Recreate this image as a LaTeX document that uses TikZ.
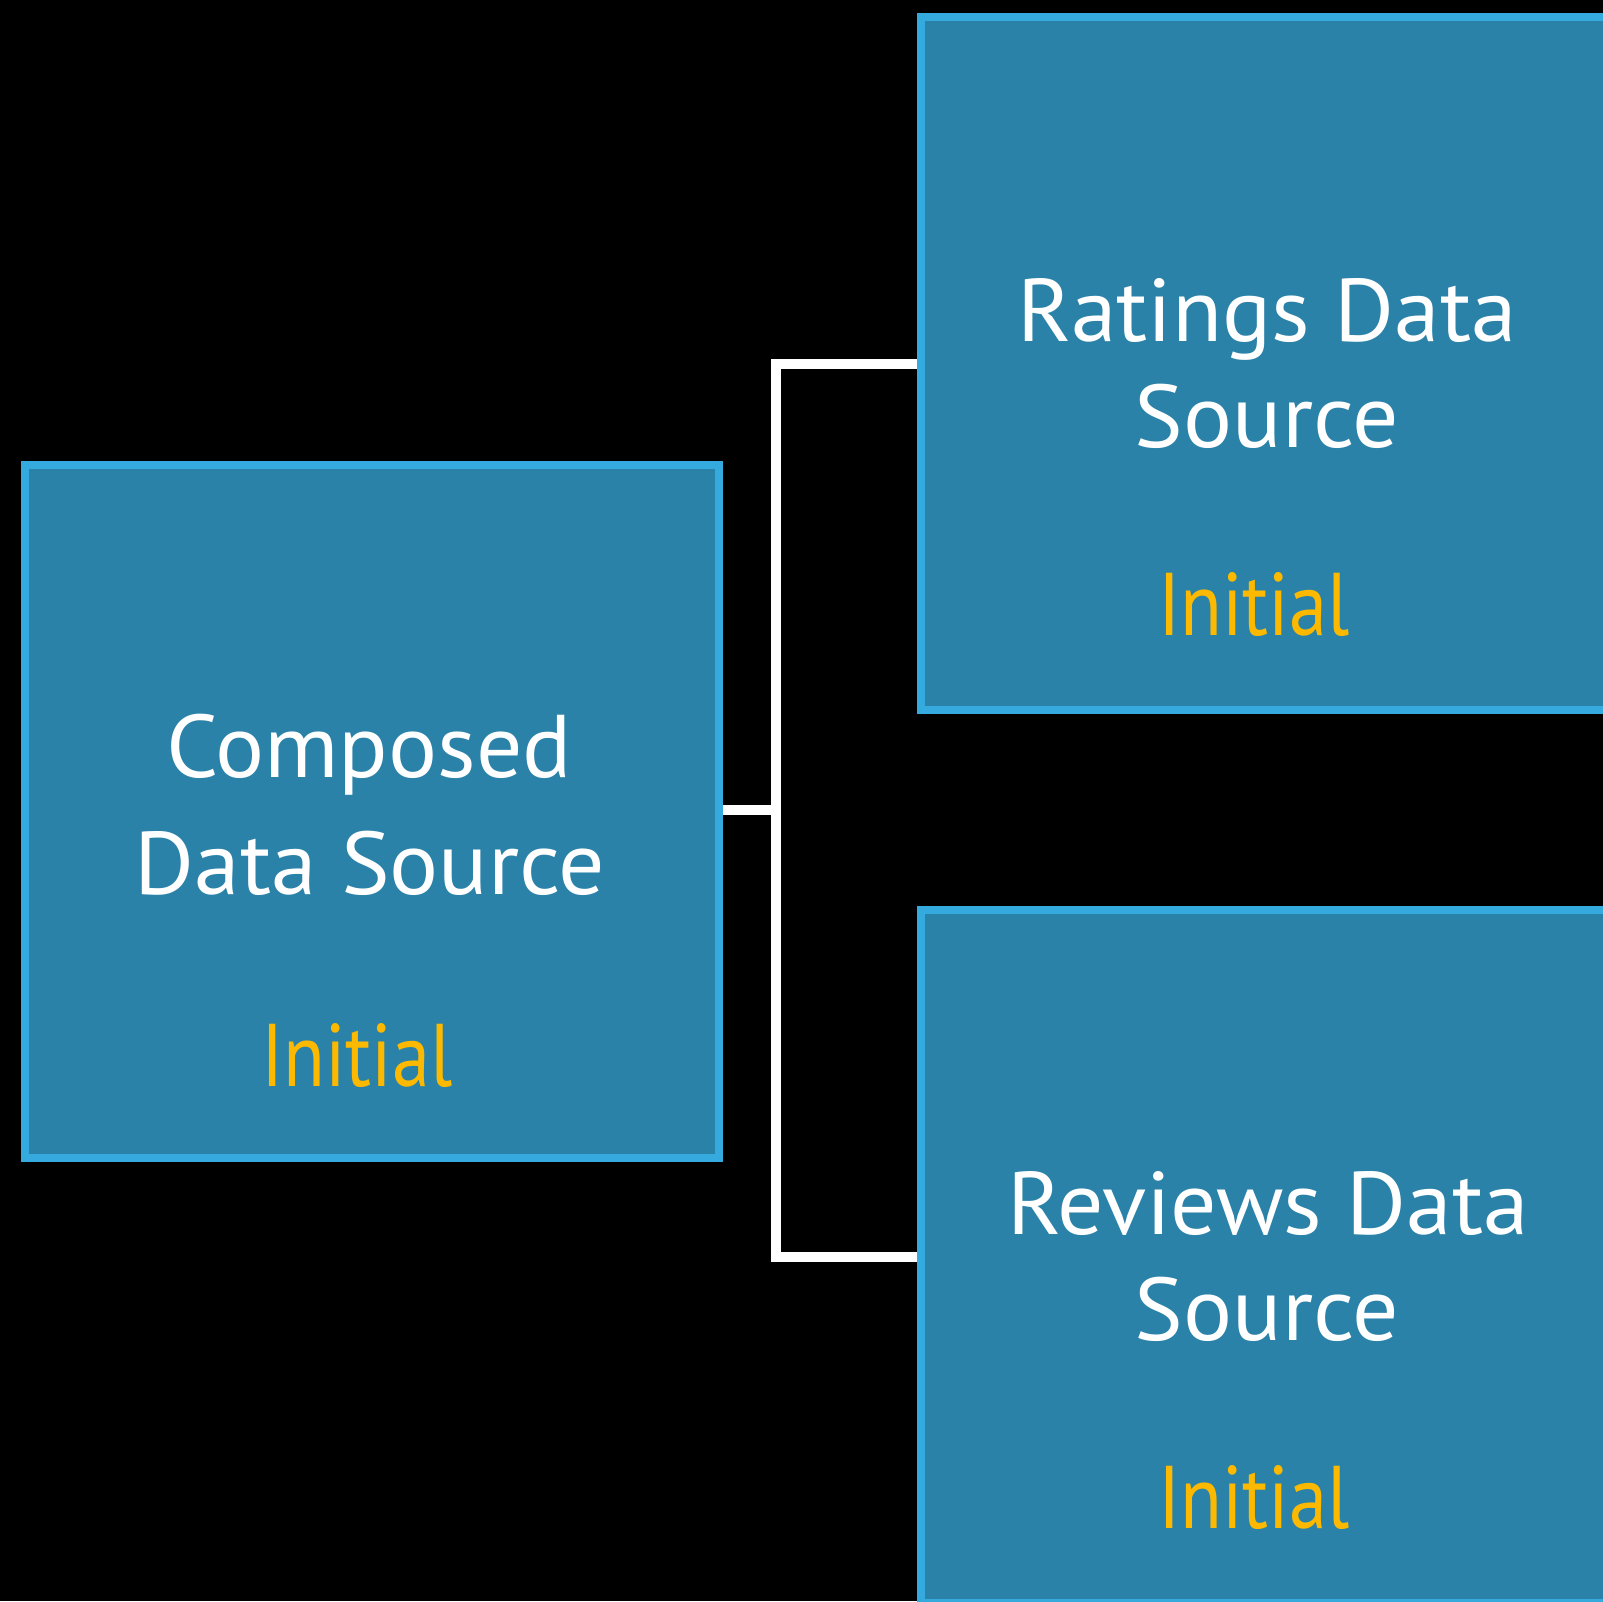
\documentclass[tikz,border=0pt]{standalone}
\usepackage{fontspec}
\setmainfont{PT Sans}
\newfontfamily\titlefont[FakeStretch=1.03]{PT Sans}
\newfontfamily\statefont[FakeStretch=0.86]{PT Sans}
\definecolor{boxfill}{RGB}{42,130,168}
\definecolor{boxline}{RGB}{53,170,222}
\definecolor{stateorange}{RGB}{252,185,0}
\begin{document}
\begin{tikzpicture}[x=1pt,y=-1pt,
  dsbox/.style={rectangle, draw=boxline, fill=boxfill, line width=8pt,
    minimum width=694pt, minimum height=693pt, inner sep=0pt},
  title/.style={anchor=base, text=white, inner sep=0pt, font=\titlefont\fontsize{89}{104}\selectfont},
  statelabel/.style={anchor=base, text=stateorange, inner sep=0pt, font=\statefont\fontsize{89}{104}\selectfont},
  conn/.style={draw=white, line width=10pt, line join=miter, line cap=butt}]
\path[use as bounding box, fill=black] (0,0) rectangle (1603,1601);
\clip (0,0) rectangle (1603,1601);

\node[dsbox] (L) at (372,811.5) {};
\node[dsbox] (R1) at (1268,363.5) {};
\node[dsbox] (R2) at (1268,1256.5) {};

\coordinate (J) at (776,810);
\draw[conn] (L.east |- J) -- (J) |- (R1.west);
\draw[conn] (J) |- (R2.west);

\node[title] (Lt1) at (369,777) {Composed};
\node[title] (Lt2) at (370,894) {Data Source};
\node[statelabel] (Ls) at (357,1086) {Initial};

\node[title] (R1t1) at (1267,341) {Ratings Data};
\node[title] (R1t2) at (1267,447) {Source};
\node[statelabel] (R1s) at (1254,635) {Initial};

\node[title] (R2t1) at (1268,1234) {Reviews Data};
\node[title] (R2t2) at (1267,1340) {Source};
\node[statelabel] (R2s) at (1254,1528) {Initial};
\end{tikzpicture}
\end{document}
